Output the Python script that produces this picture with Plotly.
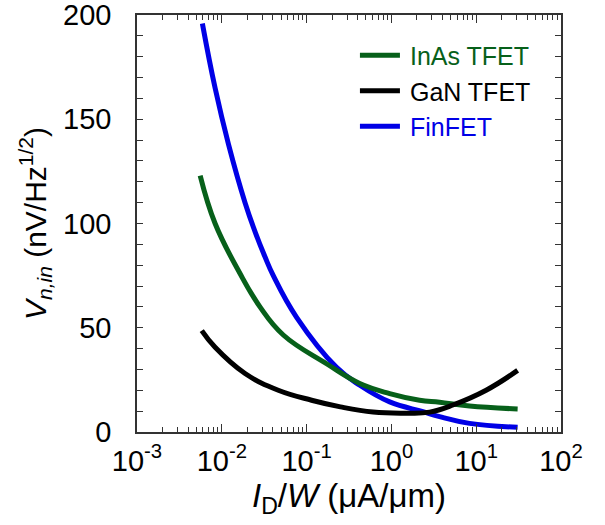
import plotly.graph_objects as go

# Data (x in uA/um, y in nV/Hz^1/2)
finfet_x = [0.0059, 0.00834, 0.012, 0.0188, 0.0247, 0.0323, 0.0405, 0.0762, 0.2254, 0.4236, 0.955, 2.355, 3.70, 8.34, 30.8]
finfet_y = [196, 165, 138, 110, 96, 84, 75, 55, 31, 22.4, 14.4, 9.7, 7.3, 4.1, 2.2]

inas_x = [0.00556, 0.00834, 0.0164, 0.0282, 0.0531, 0.1718, 0.4236, 0.955, 2.15, 3.70, 8.34, 30.8]
inas_y = [123, 100, 76, 60, 46.5, 32.7, 23.2, 18.4, 15.2, 14.2, 12.4, 11]

gan_x = [0.0058, 0.00834, 0.0188, 0.0463, 0.1146, 0.251, 0.608, 1.5, 2.82, 5.31, 13.1, 30.8]
gan_y = [48.6, 40.6, 28, 20, 15.2, 12, 9.5, 9, 9.5, 12.9, 20, 29.5]

x_tickvals = [0.001, 0.01, 0.1, 1, 10, 100]
x_ticktext = ["10<sup>-3</sup>", "10<sup>-2</sup>", "10<sup>-1</sup>", "10<sup>0</sup>", "10<sup>1</sup>", "10<sup>2</sup>"]
y_tickvals = [0, 50, 100, 150, 200]

GREEN = "#07601a"
BLUE = "#0000e6"
BLACK = "#000000"
FONT = "Liberation Sans, Arial, sans-serif"
AX = "#333333"
SP = "\u2009"

fig = go.Figure()
fig.add_trace(go.Scatter(x=finfet_x, y=finfet_y, mode="lines",
                         line=dict(color=BLUE, width=5, shape="spline", smoothing=1.2),
                         name=f"{SP}<span style='color:{BLUE}'>FinFET</span>", legendrank=3))
fig.add_trace(go.Scatter(x=inas_x, y=inas_y, mode="lines",
                         line=dict(color=GREEN, width=5, shape="spline", smoothing=1.2),
                         name=f"{SP}<span style='color:{GREEN}'>InAs TFET</span>", legendrank=1))
fig.add_trace(go.Scatter(x=gan_x, y=gan_y, mode="lines",
                         line=dict(color=BLACK, width=5, shape="spline", smoothing=1.2),
                         name=f"{SP}GaN TFET", legendrank=2))

axis_common = dict(showline=True, linecolor=AX, linewidth=1.5, mirror="allticks",
                   ticks="inside", tickcolor=AX, tickwidth=1, showgrid=False, zeroline=False,
                   automargin=False, ticklabeloverflow="allow",
                   tickfont=dict(family=FONT, size=29, color="black"))

fig.update_xaxes(type="log", range=[-3, 2], tickvals=x_tickvals, ticktext=x_ticktext, ticklen=8,
                 minor=dict(ticks="inside", dtick="D1", ticklen=5, tickcolor=AX, showgrid=False),
                 ticklabelstandoff=2,
                 title=dict(text="<i>I</i><sub>D</sub>/<i>W</i> (μA/μm)", font=dict(family=FONT, size=33, color="black"), standoff=8),
                 **axis_common)
fig.update_yaxes(range=[-0.05, 200.05], tickvals=y_tickvals, ticklen=6,
                 minor=dict(ticks="inside", dtick=10, ticklen=6, tickcolor=AX, showgrid=False),
                 ticklabelstandoff=18,
                 title=dict(text="<i>V<sub>n,in</sub></i> (nV/Hz<sup>1/2</sup>)", font=dict(family=FONT, size=30, color="black"), standoff=8),
                 **axis_common)

fig.update_layout(
    width=605, height=525,
    margin=dict(l=137, r=44, t=15, b=93),
    paper_bgcolor="white", plot_bgcolor="white",
    legend=dict(x=0.514, y=0.958, xanchor="left", yanchor="top", bgcolor="rgba(0,0,0,0)",
                font=dict(family=FONT, size=25, color="black"), itemwidth=40, tracegroupgap=0),
    showlegend=True,
)

fig.write_html("out.html", config={"displayModeBar": False},
               post_script="document.body.style.margin='0';document.body.style.overflow='hidden';")
